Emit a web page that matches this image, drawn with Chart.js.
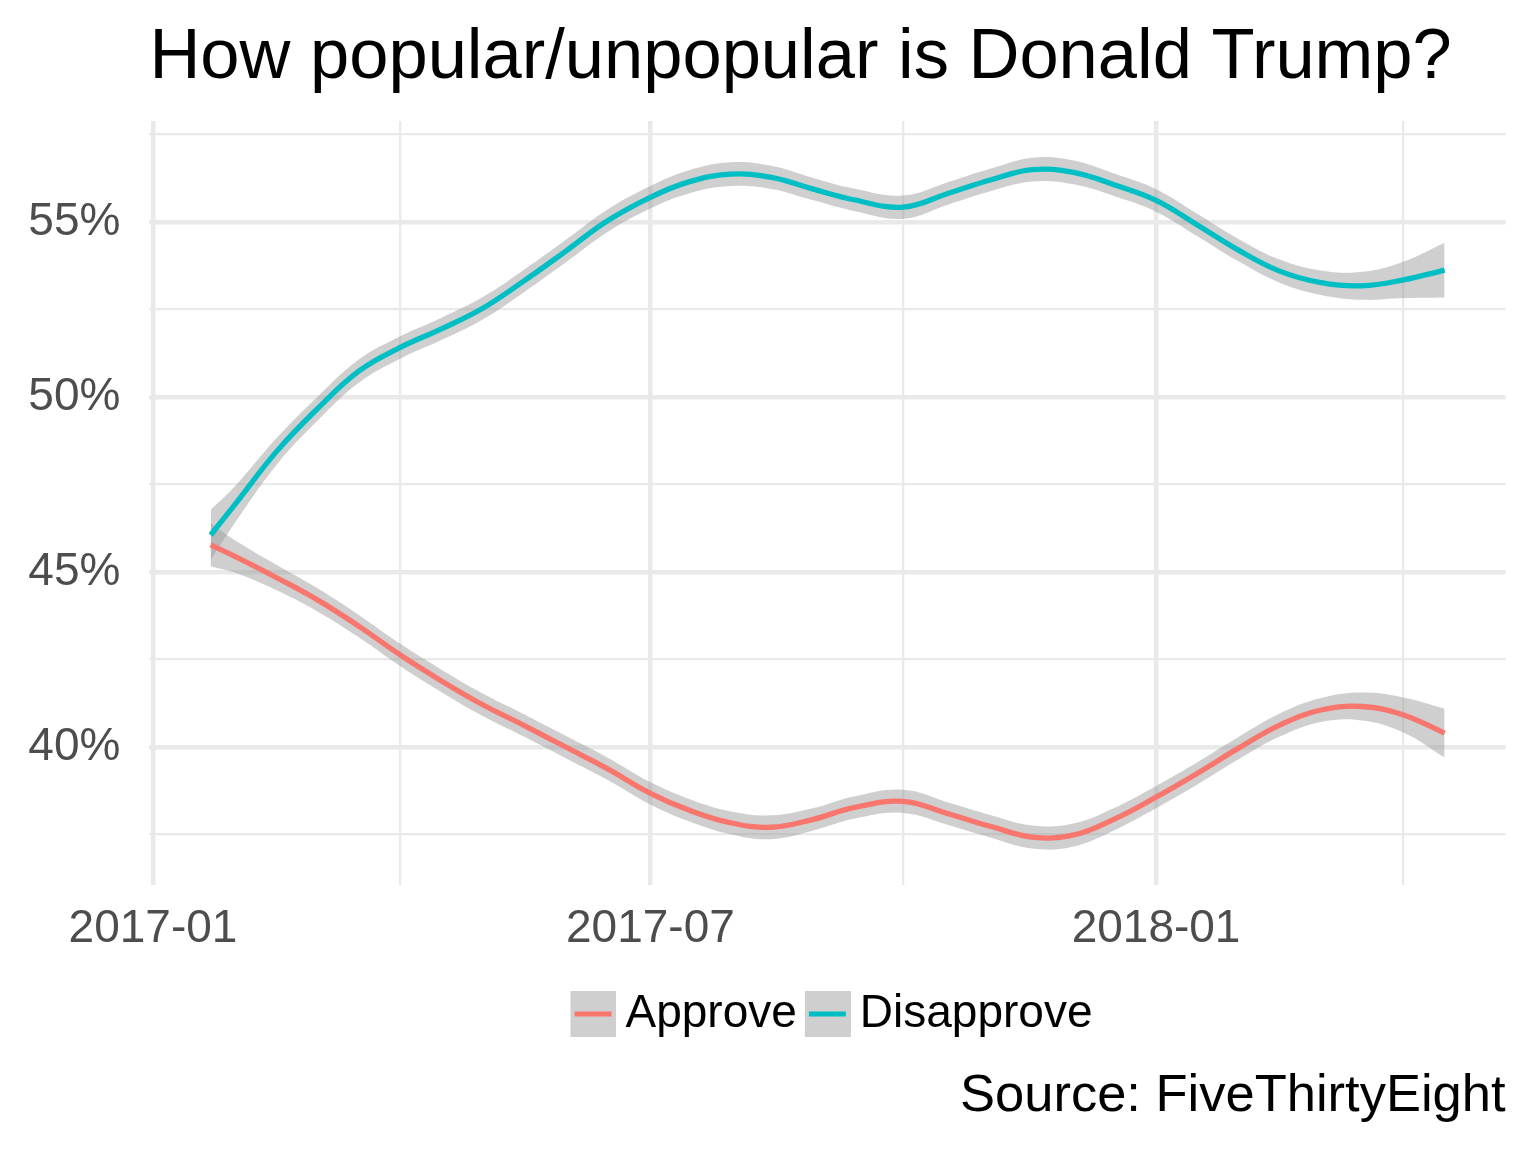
<!DOCTYPE html>
<html>
<head>
<meta charset="utf-8">
<title>How popular/unpopular is Donald Trump?</title>
<script src="https://cdn.jsdelivr.net/npm/chart.js@4.4.1/dist/chart.umd.min.js"></script>
<style>
  html, body { margin: 0; padding: 0; background: #fff; }
  #wrap { width: 1536px; height: 1152px; }
</style>
</head>
<body>
<div id="wrap"><canvas id="chart"></canvas></div>
<script>
// ── DATA (x = days since 2017-01-01, y = smoothed %) ─────────────────────────
const days = [21, 30, 45, 60, 75, 90, 105, 120, 135, 150, 165, 181, 195, 210, 225, 240,
              255, 273, 290, 305, 320, 335, 350, 365, 380, 395, 410, 425, 440, 455, 470];

const approve     = [45.78, 45.44, 44.84, 44.20, 43.45, 42.63, 41.89, 41.21, 40.62, 40.01, 39.40,
                     38.68, 38.20, 37.84, 37.71, 37.93, 38.27, 38.45, 38.08, 37.73, 37.43, 37.49,
                     37.95, 38.57, 39.25, 39.97, 40.63, 41.06, 41.16, 40.92, 40.40];
const approveHigh = [46.40, 45.90, 45.20, 44.53, 43.77, 42.95, 42.21, 41.53, 40.94, 40.33, 39.72,
                     39.00, 38.52, 38.17, 38.05, 38.25, 38.59, 38.78, 38.40, 38.05, 37.76, 37.82,
                     38.27, 38.89, 39.57, 40.29, 40.96, 41.40, 41.56, 41.42, 41.10];
const approveLow  = [45.16, 44.98, 44.48, 43.87, 43.13, 42.31, 41.57, 40.89, 40.30, 39.69, 39.08,
                     38.36, 37.88, 37.51, 37.37, 37.61, 37.95, 38.12, 37.76, 37.41, 37.10, 37.16,
                     37.63, 38.25, 38.93, 39.65, 40.30, 40.72, 40.76, 40.42, 39.70];

const disapprove     = [46.06, 46.95, 48.45, 49.68, 50.75, 51.42, 51.95, 52.54, 53.32, 54.16, 55.02,
                        55.71, 56.15, 56.37, 56.28, 55.95, 55.64, 55.43, 55.84, 56.21, 56.50, 56.42,
                        56.06, 55.62, 54.92, 54.20, 53.60, 53.27, 53.18, 53.35, 53.63];
const disapproveHigh = [46.78, 47.47, 48.83, 50.02, 51.08, 51.74, 52.27, 52.86, 53.64, 54.48, 55.34,
                        56.03, 56.48, 56.71, 56.61, 56.27, 55.96, 55.76, 56.16, 56.53, 56.84, 56.76,
                        56.38, 55.94, 55.24, 54.52, 53.93, 53.62, 53.58, 53.87, 54.41];
const disapproveLow  = [45.34, 46.43, 48.07, 49.34, 50.42, 51.10, 51.63, 52.22, 53.00, 53.84, 54.70,
                        55.39, 55.82, 56.03, 55.95, 55.63, 55.32, 55.10, 55.52, 55.89, 56.16, 56.08,
                        55.74, 55.30, 54.60, 53.88, 53.27, 52.92, 52.78, 52.83, 52.85];

const xTickDays   = [0, 90, 181, 273, 365, 455];
const xTickLabels = ['2017-01', '', '2017-07', '', '2018-01', ''];
const yTickValues = [37.5, 40, 42.5, 45, 47.5, 50, 52.5, 55, 57.5];
const yTickLabels = ['', '40%', '', '45%', '', '50%', '', '55%', ''];

const seriesNames  = ['Approve', 'Disapprove'];
const seriesColors = ['#F8766D', '#00BFC4'];

// ── STYLE ────────────────────────────────────────────────────────────────────
const FONT = "'Liberation Sans', Arial, Helvetica, sans-serif";
const BAND = 'rgba(153,153,153,0.47)';
const GRID = '#E9E9E9';
const AXIS_TEXT = '#4D4D4D';

Chart.defaults.font.family = FONT;

function pts(ys) {
  return days.map((d, i) => ({ x: d, y: ys[i] }));
}

// grey key with a coloured stroke, like ggplot's smooth legend key
function legendKey(color) {
  const c = document.createElement('canvas');
  c.width = 68; c.height = 46;
  const g = c.getContext('2d');
  g.fillStyle = BAND;
  g.fillRect(22, 0, 46, 46);
  g.fillStyle = color;
  g.fillRect(26, 20.5, 37, 5);
  return c;
}

function lineSet(i, ys) {
  return {
    label: seriesNames[i], data: pts(ys), order: 0,
    borderColor: seriesColors[i], borderWidth: 5.3, pointRadius: 0,
    tension: 0.4, fill: false
  };
}

function bandSet(name, ys, fill) {
  return {
    label: name, data: pts(ys), order: 1,
    borderColor: 'rgba(0,0,0,0)', borderWidth: 0, pointRadius: 0,
    backgroundColor: BAND, tension: 0.4, fill: fill
  };
}

new Chart(document.getElementById('chart'), {
  type: 'line',
  data: {
    datasets: [
      lineSet(0, approve),
      lineSet(1, disapprove),
      bandSet('approveHigh', approveHigh, '+1'),
      bandSet('approveLow', approveLow, false),
      bandSet('disapproveHigh', disapproveHigh, '+1'),
      bandSet('disapproveLow', disapproveLow, false)
    ]
  },
  options: {
    responsive: true,
    maintainAspectRatio: false,
    animation: false,
    events: [],
    layout: { padding: { left: 0, right: 30.4, top: 0, bottom: 0 } },
    scales: {
      x: {
        type: 'linear', min: -1.3, max: 492.2,
        border: { display: false },
        grid: {
          color: GRID, drawTicks: false,
          lineWidth: ctx => (xTickLabels[ctx.index] ? 4.5 : 2.3)
        },
        afterBuildTicks: s => { s.ticks = xTickDays.map(v => ({ value: v })); },
        afterFit: s => { s.height = 106; },
        ticks: {
          autoSkip: false, maxRotation: 0, padding: 17,
          color: AXIS_TEXT, font: { size: 46 },
          callback: (v, i) => xTickLabels[i]
        }
      },
      y: {
        type: 'linear', min: 36.06, max: 57.89,
        border: { display: false },
        grid: {
          color: GRID, drawTicks: false,
          lineWidth: ctx => (yTickLabels[ctx.index] ? 4.5 : 2.3)
        },
        afterBuildTicks: s => { s.ticks = yTickValues.map(v => ({ value: v })); },
        afterFit: s => { s.width = 149.4; },
        ticks: {
          autoSkip: false, padding: 29,
          color: AXIS_TEXT, font: { size: 46 },
          callback: (v, i) => yTickLabels[i]
        }
      }
    },
    plugins: {
      tooltip: { enabled: false },
      title: {
        display: true, fullSize: false, align: 'start',
        text: 'How popular/unpopular is Donald Trump?',
        color: '#000', font: { size: 70.5, weight: 'normal', lineHeight: 1 },
        padding: { top: 23, bottom: 27.5 }
      },
      subtitle: {
        display: true, fullSize: false, position: 'bottom', align: 'end',
        text: 'Source: FiveThirtyEight',
        color: '#000', font: { size: 52.5, weight: 'normal', lineHeight: 1 },
        padding: { top: 23, bottom: 29.5 }
      },
      legend: {
        display: true, position: 'bottom', fullSize: false,
        labels: {
          usePointStyle: true, boxWidth: 40, padding: 0,
          color: '#000', font: { size: 46 },
          generateLabels: () => seriesNames.map((name, i) => ({
            text: name, pointStyle: legendKey(seriesColors[i]),
            fillStyle: 'rgba(0,0,0,0)', strokeStyle: 'rgba(0,0,0,0)',
            lineWidth: 0, hidden: false, datasetIndex: i, fontColor: '#000'
          }))
        }
      }
    }
  }
});
</script>
</body>
</html>
